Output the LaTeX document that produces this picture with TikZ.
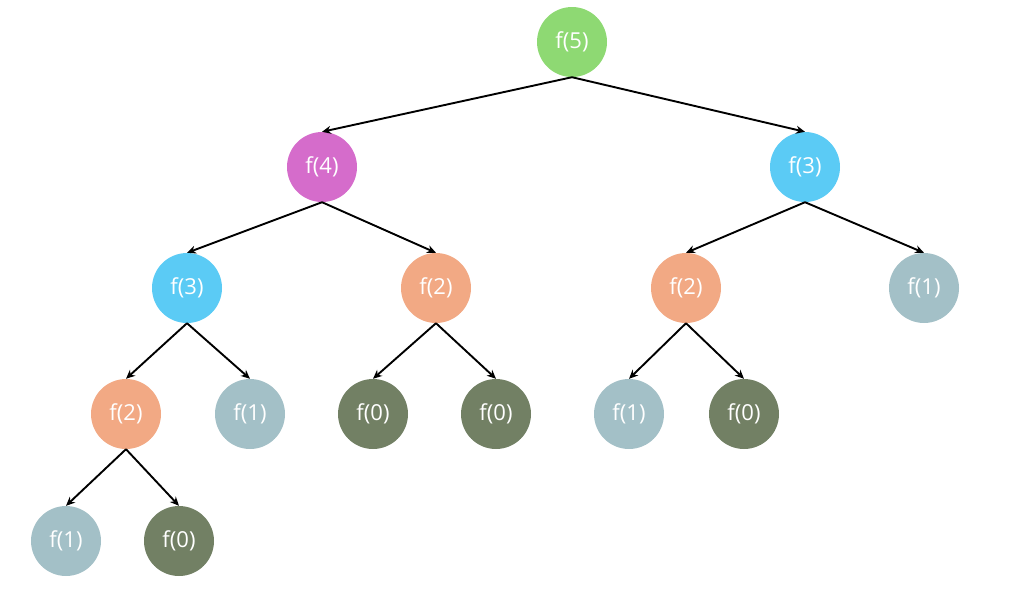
\documentclass[tikz,border=0pt]{standalone}
\usepackage{fontspec}
\setmainfont{Open Sans}
\usetikzlibrary{arrows.meta}
\definecolor{cgreen}{HTML}{8ED973}
\definecolor{cmag}{HTML}{D56CCB}
\definecolor{cblue}{HTML}{5BCBF5}
\definecolor{corange}{HTML}{F2A984}
\definecolor{cgray}{HTML}{A3C0C7}
\definecolor{cdark}{HTML}{728064}
\tikzset{
  fn/.style={circle, minimum size=70pt, inner sep=0pt, text=white, font=\fontsize{22}{24}\selectfont},
  edge/.style={line width=1.9pt, -{Stealth[length=9pt,width=8pt]}}
}
\begin{document}
\begin{tikzpicture}[x=1pt,y=-1pt]
\useasboundingbox (0,0) rectangle (1033,598);
\node[fn, fill=cgreen] (n5) at (572,42) {f(5)};
\node[fn, fill=cmag] (n4) at (322,167) {f(4)};
\node[fn, fill=cblue] (n3r) at (805,167) {f(3)};
\node[fn, fill=cblue] (n3l) at (187,288) {f(3)};
\node[fn, fill=corange] (n2a) at (436,288) {f(2)};
\node[fn, fill=corange] (n2b) at (686,288) {f(2)};
\node[fn, fill=cgray] (n1a) at (924,288) {f(1)};
\node[fn, fill=corange] (n2c) at (126,414) {f(2)};
\node[fn, fill=cgray] (n1b) at (250,414) {f(1)};
\node[fn, fill=cdark] (n0a) at (373,414) {f(0)};
\node[fn, fill=cdark] (n0b) at (496,414) {f(0)};
\node[fn, fill=cgray] (n1c) at (629,414) {f(1)};
\node[fn, fill=cdark] (n0c) at (744,414) {f(0)};
\node[fn, fill=cgray] (n1d) at (66,541) {f(1)};
\node[fn, fill=cdark] (n0d) at (179,541) {f(0)};
\foreach \p/\c in {n5/n4, n5/n3r, n4/n3l, n4/n2a, n3r/n2b, n3r/n1a, n3l/n2c, n3l/n1b, n2a/n0a, n2a/n0b, n2b/n1c, n2b/n0c, n2c/n1d, n2c/n0d}
  \draw[edge] (\p.south) -- (\c.north);
\end{tikzpicture}
\end{document}
